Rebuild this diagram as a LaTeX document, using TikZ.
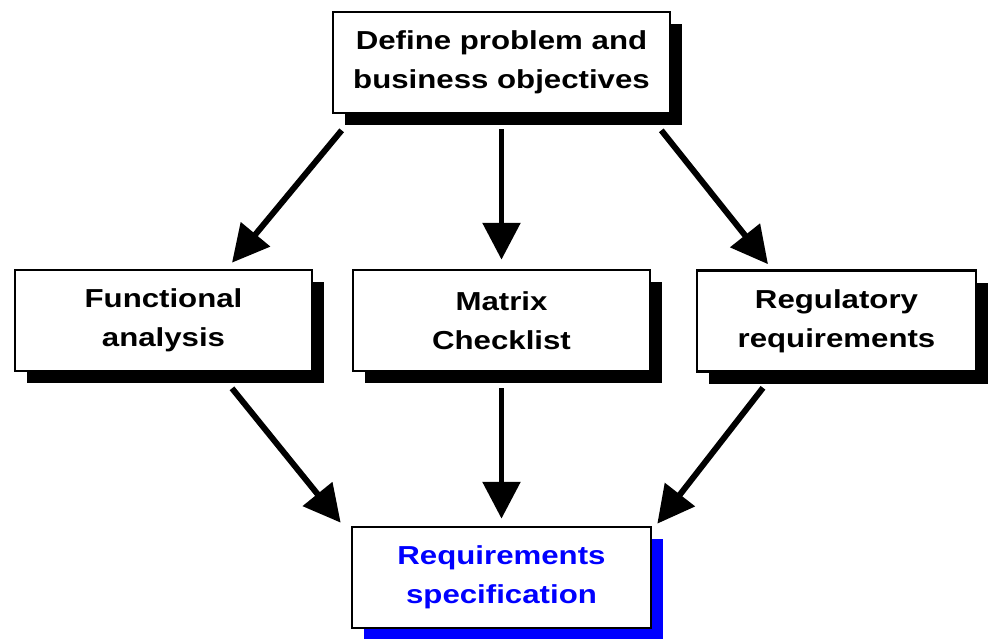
\documentclass[tikz,border=0pt]{standalone}
\usepackage{fontspec}
\setmainfont{Liberation Sans}[FakeStretch=1.2]
\usetikzlibrary{arrows.meta,shadows}

\tikzset{
  stepbox/.style={draw, line width=1.5pt, fill=white, align=center, inner sep=0pt,
    minimum height=2.02cm, font=\fontsize{14.8}{22}\selectfont\bfseries,
    drop shadow={shadow xshift=0.24cm, shadow yshift=-0.24cm, opacity=1, fill=black}},
  goalbox/.style={stepbox, text=blue,
    drop shadow={shadow xshift=0.24cm, shadow yshift=-0.24cm, opacity=1, fill=blue}},
  flow/.style={line width=3.4pt, -{Triangle[length=21pt,width=21pt]}}
}

\begin{document}
\begin{tikzpicture}

\useasboundingbox (0,0) rectangle (19.76,-12.78);

\node[stepbox, minimum width=6.74cm] (define) at (10.03,-1.25) {Define problem and\\business objectives};
\node[stepbox, minimum width=5.94cm] (func) at (3.27,-6.41) {Functional\\analysis};
\node[stepbox, minimum width=5.94cm] (matrix) at (10.03,-6.41) {Matrix\\Checklist};
\node[stepbox, minimum width=5.58cm] (regul) at (16.73,-6.42) {Regulatory\\requirements};
\node[goalbox, minimum width=5.98cm] (spec) at (10.03,-11.55) {Requirements\\specification};

\draw[flow] ([shift={(0.2,-0.32)}]define.south west) -- ([shift={(1.37,0.12)}]func.north);
\draw[flow] ([yshift=-0.3cm]define.south) -- ([yshift=0.18cm]matrix.north);
\draw[flow] ([shift={(-0.2,-0.32)}]define.south east) -- ([shift={(-1.37,0.1)}]regul.north);

\draw[flow] ([shift={(1.37,-0.32)}]func.south) -- ([shift={(-0.2,0.06)}]spec.north west);
\draw[flow] ([yshift=-0.32cm]matrix.south) -- ([yshift=0.14cm]spec.north);
\draw[flow] ([shift={(-1.47,-0.3)}]regul.south) -- ([shift={(0.1,0.04)}]spec.north east);

\end{tikzpicture}
\end{document}
